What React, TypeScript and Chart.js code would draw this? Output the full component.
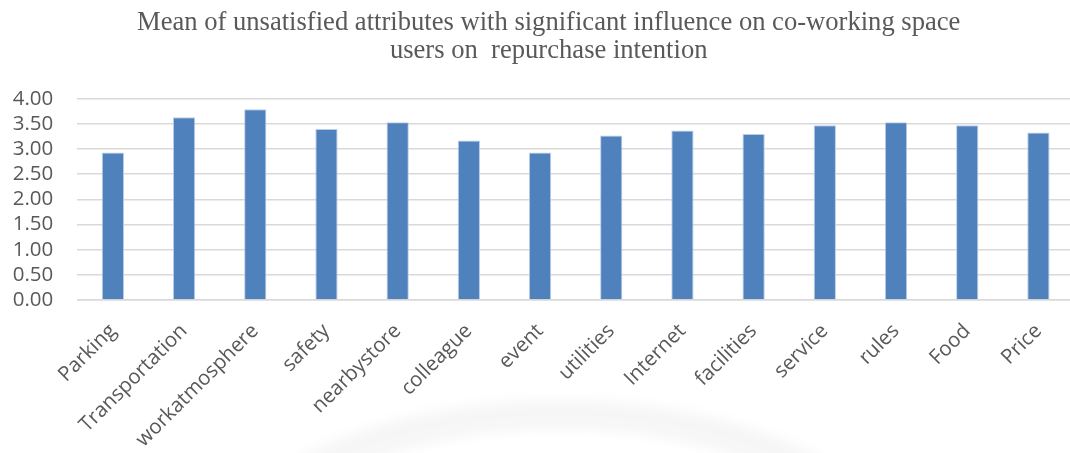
import React, { useEffect, useRef } from "react";
import { Chart, registerables } from "chart.js";

Chart.register(...registerables);

// Attribute categories along the x axis
const categories: string[] = [
  "Parking",
  "Transportation",
  "workatmosphere",
  "safety",
  "nearbystore",
  "colleague",
  "event",
  "utilities",
  "Internet",
  "facilities",
  "service",
  "rules",
  "Food",
  "Price",
];

// Mean score for each attribute
const meanValues: number[] = [
  2.93, 3.63, 3.79, 3.4, 3.53, 3.17, 2.93, 3.27, 3.37, 3.3, 3.47, 3.53, 3.47, 3.33,
];

const titleLines: string[] = [
  "Mean of unsatisfied attributes with significant influence on co-working space",
  "users on  repurchase intention",
];

const yMin = 0;
const yMax = 4;
const yStep = 0.5;

const CANVAS_W = 1097;
const CANVAS_H = 453;
const LABEL_COLOR = "#595959";

// Faint page emblem showing through beneath the axis labels
const emblemPlugin = {
  id: "pageEmblem",
  beforeDraw(chart: any) {
    const ctx = chart.ctx as CanvasRenderingContext2D;
    ctx.save();
    ctx.filter = "blur(6px)";
    ctx.fillStyle = "rgba(0,0,0,0.035)";
    ctx.beginPath();
    ctx.ellipse(560, 585, 360, 185, 0, 0, Math.PI * 2);
    ctx.fill();
    ctx.fillStyle = "#ffffff";
    ctx.beginPath();
    ctx.ellipse(560, 600, 330, 170, 0, 0, Math.PI * 2);
    ctx.fill();
    ctx.restore();
  },
};

// Two-line serif heading, centred a little left of the plot centre
const headingPlugin = {
  id: "heading",
  afterDraw(chart: any) {
    const ctx = chart.ctx as CanvasRenderingContext2D;
    ctx.save();
    ctx.fillStyle = LABEL_COLOR;
    ctx.font = "normal 26.6px 'Liberation Serif', 'Times New Roman', serif";
    ctx.textAlign = "center";
    ctx.textBaseline = "alphabetic";
    const cx = 548.7;
    const baselines = [29.5, 58.3];
    titleLines.forEach((line, i) => ctx.fillText(line, cx, baselines[i]));
    ctx.restore();
  },
};

export default function App() {
  const canvasRef = useRef<HTMLCanvasElement | null>(null);

  useEffect(() => {
    const canvas = canvasRef.current;
    if (!canvas) return;
    const gridColor = "#d9d9d9";
    const tickFont = { family: "'Open Sans', 'Noto Sans', sans-serif", size: 20.5 };

    const chart = new Chart(canvas, {
      type: "bar",
      data: {
        labels: categories,
        datasets: [
          {
            data: meanValues,
            backgroundColor: "#4f81bd",
            borderColor: "#b9cde5",
            borderWidth: { left: 1, right: 1, top: 1, bottom: 0 },
            barPercentage: 0.3125,
            categoryPercentage: 1,
          },
        ],
      },
      options: {
        animation: false,
        responsive: false,
        maintainAspectRatio: false,
        layout: { padding: { left: 0, right: 23, top: 98.7, bottom: 0 } },
        plugins: {
          legend: { display: false },
          tooltip: { enabled: false },
          title: { display: false },
        },
        scales: {
          x: {
            grid: { display: false },
            border: { display: true, color: gridColor, width: 1.5 },
            ticks: {
              autoSkip: false,
              maxRotation: 45,
              minRotation: 45,
              color: LABEL_COLOR,
              font: tickFont,
              padding: 11,
            },
            afterFit: (scale: any) => {
              scale.height = CANVAS_H - 300;
            },
          },
          y: {
            min: yMin,
            max: yMax,
            grid: { color: gridColor, lineWidth: 1.5, drawTicks: false },
            border: { display: false },
            ticks: {
              autoSkip: false,
              stepSize: yStep,
              color: LABEL_COLOR,
              font: tickFont,
              padding: 24,
              callback: (v: any) => Number(v).toFixed(2),
            },
            afterFit: (scale: any) => {
              scale.width = 77.3;
            },
          },
        },
      },
      plugins: [emblemPlugin, headingPlugin],
    });

    return () => {
      chart.destroy();
    };
  }, []);

  return (
    <div
      style={{
        position: "fixed",
        left: 0,
        top: 0,
        width: 1070,
        height: CANVAS_H,
        overflow: "hidden",
        background: "#ffffff",
      }}
    >
      <canvas
        ref={canvasRef}
        width={CANVAS_W}
        height={CANVAS_H}
        style={{ display: "block", width: CANVAS_W, height: CANVAS_H }}
      />
    </div>
  );
}
